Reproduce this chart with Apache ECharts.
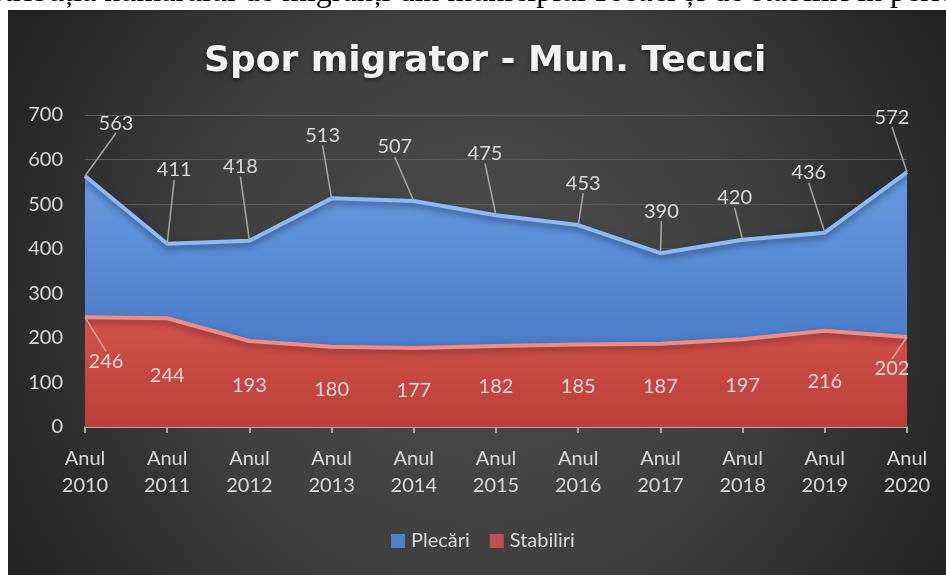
<!DOCTYPE html>
<html>
<head>
<meta charset="utf-8">
<script src="https://cdn.jsdelivr.net/npm/echarts@6/dist/echarts.min.js"></script>
<style>
  html, body { margin: 0; padding: 0; background: #ffffff; }
  #chart { width: 946px; height: 575px; }
</style>
</head>
<body>
<div id="chart"></div>
<script>
// ---- data ----
const categories = ['Anul\n2010', 'Anul\n2011', 'Anul\n2012', 'Anul\n2013', 'Anul\n2014', 'Anul\n2015',
                    'Anul\n2016', 'Anul\n2017', 'Anul\n2018', 'Anul\n2019', 'Anul\n2020'];
const plecari   = [563, 411, 418, 513, 507, 475, 453, 390, 420, 436, 572];
const stabiliri = [246, 244, 193, 180, 177, 182, 185, 187, 197, 216, 202];
const seriesNames = ['Plecări', 'Stabiliri'];
const titleText = 'Spor migrator - Mun. Tecuci';
const captionLeft = 'Distribuția numărului de migranți din municipiul';
const captionRight = 'Tecuci și de stabiliri în perioada 2010-2020';

// ---- label placement (style only: pixel offsets of each data label from its point) ----
const plecariLabelOffsets = [[31,-53],[7,-74],[-9,-74],[-9,-63],[-19,-54],[-11,-62],[5,-42],[1,-42],[-8,-42],[-16,-60],[-15,-55]];
const stabiliriLabelOffsets = [[21,44],[0,57],[0,45],[0,43],[0,42],[0,41],[0,42],[0,43],[0,46],[0,51],[-15,32]];
const stabiliriLeader = [true,false,false,false,false,false,false,false,false,false,true];

const chart = echarts.init(document.getElementById('chart'), null, { renderer: 'canvas' });
const labelFont = 'Lato, "Open Sans", sans-serif';

const option = {
  backgroundColor: '#ffffff',
  animation: false,
  graphic: [
    { type: 'text', z: -200, silent: true, x: 586, y: 9,
      style: { text: captionLeft, align: 'right', verticalAlign: 'bottom',
               font: '32px "Liberation Serif", "DejaVu Serif", serif', fill: '#000' } },
    { type: 'text', z: -200, silent: true, x: 591, y: 9,
      style: { text: captionRight, align: 'left', verticalAlign: 'bottom',
               font: '32px "Liberation Serif", "DejaVu Serif", serif', fill: '#000' } },
    { type: 'rect', z: -100, silent: true,
      shape: { x: 8, y: 10, width: 950, height: 570 },
      style: { fill: { type: 'radial', x: 480, y: 300, r: 560, global: true,
        colorStops: [{ offset: 0, color: '#4c4c4c' }, { offset: 0.5, color: '#3f3f3f' }, { offset: 1, color: '#1f1f1f' }] } } }
  ],
  title: {
    text: titleText,
    left: 199, top: 39,
    textStyle: { fontFamily: '"DejaVu Sans", sans-serif', fontWeight: 'bold', fontSize: 36, color: '#f2f2f2',
                 textShadowColor: 'rgba(0,0,0,0.55)', textShadowBlur: 4, textShadowOffsetY: 2 }
  },
  legend: {
    data: seriesNames,
    left: 391, top: 531, padding: 0,
    itemWidth: 14, itemHeight: 14, itemGap: 20, icon: 'rect',
    textStyle: { color: '#d9d9d9', fontSize: 20, fontFamily: labelFont, padding: [0, 0, 0, 1] }
  },
  grid: { left: 85, right: 39, top: 115, bottom: 148, containLabel: false },
  xAxis: {
    type: 'category', data: categories, boundaryGap: false,
    axisLine: { lineStyle: { color: '#a6a6a6', width: 2 } },
    axisTick: { show: true, alignWithLabel: true, length: 6, lineStyle: { color: '#a6a6a6', width: 2 } },
    axisLabel: { color: '#d9d9d9', fontSize: 20, fontFamily: labelFont, lineHeight: 27, margin: 18, interval: 0 },
    splitLine: { show: false }
  },
  yAxis: {
    type: 'value', min: 0, max: 700, interval: 100,
    axisLine: { show: false }, axisTick: { show: false },
    axisLabel: { color: '#d9d9d9', fontSize: 20, fontFamily: labelFont, margin: 22 },
    splitLine: { lineStyle: { color: '#5c5c5c', width: 1 } }
  },
  series: [
    {
      name: seriesNames[0], type: 'line', data: plecari, z: 2,
      symbol: 'circle', symbolSize: 0.1, showSymbol: true,
      itemStyle: { color: '#4f81cf' },
      lineStyle: { color: '#8dbaf2', width: 4, shadowColor: 'rgba(20,40,80,0.6)', shadowBlur: 6, shadowOffsetY: 3 },
      areaStyle: { opacity: 1, color: { type: 'linear', x: 0, y: 0, x2: 0, y2: 1,
        colorStops: [{ offset: 0, color: '#669ae0' }, { offset: 1, color: '#3d6fbd' }] } },
      label: { show: true, position: 'inside', color: '#d9d9d9', fontSize: 20, fontFamily: labelFont },
      labelLine: { show: true, lineStyle: { color: '#a6a6a6', width: 1.5 } },
      labelLayout: function (p) {
        const o = plecariLabelOffsets[p.dataIndex];
        return { dx: o[0], dy: o[1] };
      }
    },
    {
      name: seriesNames[1], type: 'line', z: 3,
      data: stabiliri.map(function (v, i) { return { value: v, labelLine: { show: stabiliriLeader[i] } }; }),
      symbol: 'circle', symbolSize: 0.1, showSymbol: true,
      itemStyle: { color: '#c0504d' },
      lineStyle: { color: '#ec8e88', width: 4, shadowColor: 'rgba(80,20,20,0.5)', shadowBlur: 6, shadowOffsetY: 3 },
      areaStyle: { opacity: 1, color: { type: 'linear', x: 0, y: 0, x2: 0, y2: 1,
        colorStops: [{ offset: 0, color: '#d0524c' }, { offset: 1, color: '#bd3f39' }] } },
      label: { show: true, position: 'inside', color: '#d9d9d9', fontSize: 20, fontFamily: labelFont },
      labelLine: { show: true, lineStyle: { color: '#d9a0a0', width: 1.5 } },
      labelLayout: function (p) {
        const o = stabiliriLabelOffsets[p.dataIndex];
        return { dx: o[0], dy: o[1] };
      }
    }
  ]
};
chart.setOption(option);
</script>
</body>
</html>
